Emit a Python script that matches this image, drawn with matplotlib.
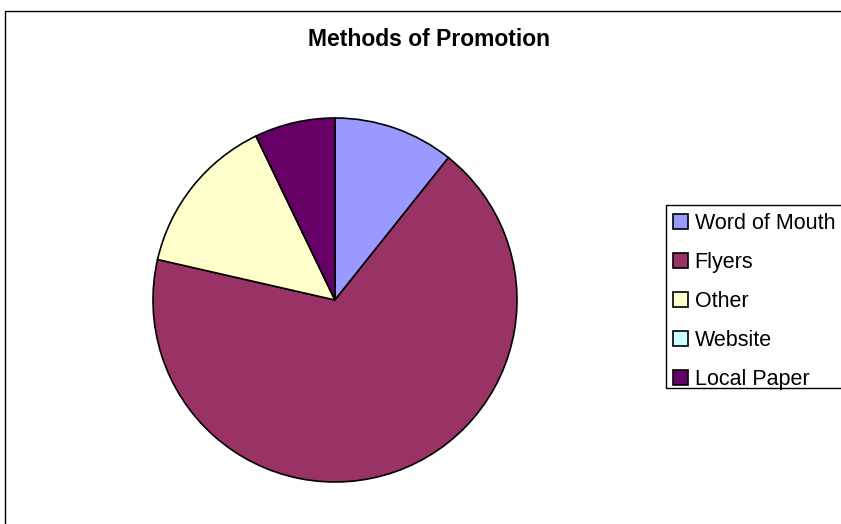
import matplotlib
matplotlib.use('Agg')
import matplotlib.pyplot as plt
from matplotlib.patches import Rectangle

# data
labels = ['Word of Mouth', 'Flyers', 'Other', 'Website', 'Local Paper']
counts = [3, 19, 4, 0, 2]
colors = ['#9999FF', '#993366', '#FFFFCC', '#CCFFFF', '#660066']
title = 'Methods of Promotion'

W, H = 841, 524
plt.rcParams['font.family'] = ['Liberation Sans', 'DejaVu Sans']

fig = plt.figure(figsize=(W / 100, H / 100), dpi=100)
fig.patch.set_facecolor('white')

# chart area border (runs off the right and bottom edges)
fig.patches.append(Rectangle((5 / W, -0.05), 1.1, 1 - 11 / H + 0.05,
                             transform=fig.transFigure, fill=False,
                             edgecolor='black', linewidth=1.0))

# pie
cx, cy, r = 335, 300, 182
ax = fig.add_axes([(cx - r) / W, (H - cy - r) / H, 2 * r / W, 2 * r / H])
wedges, _ = ax.pie(counts, colors=colors, startangle=90, counterclock=False,
                   wedgeprops=dict(edgecolor='black', linewidth=1.2))
ax.set_xlim(-1, 1)
ax.set_ylim(-1, 1)
ax.axis('off')

fig.text(429.5 / W, 1 - 40 / H, title, ha='center', va='center',
         fontsize=16.5, fontweight='bold')

# legend box (runs off the right edge)
fig.patches.append(Rectangle((666 / W, 1 - 388 / H), 0.3, (388 - 205) / H,
                             transform=fig.transFigure, fill=False,
                             edgecolor='black', linewidth=1.0))
leg = fig.legend(wedges, labels, loc='upper left',
                 bbox_to_anchor=(673 / W, 1 - 213 / H),
                 frameon=False, fontsize=15.5, borderpad=0, borderaxespad=0,
                 handlelength=0.7, handleheight=0.7, handletextpad=0.3,
                 labelspacing=0.84)

fig.savefig('out.png', dpi=100)
